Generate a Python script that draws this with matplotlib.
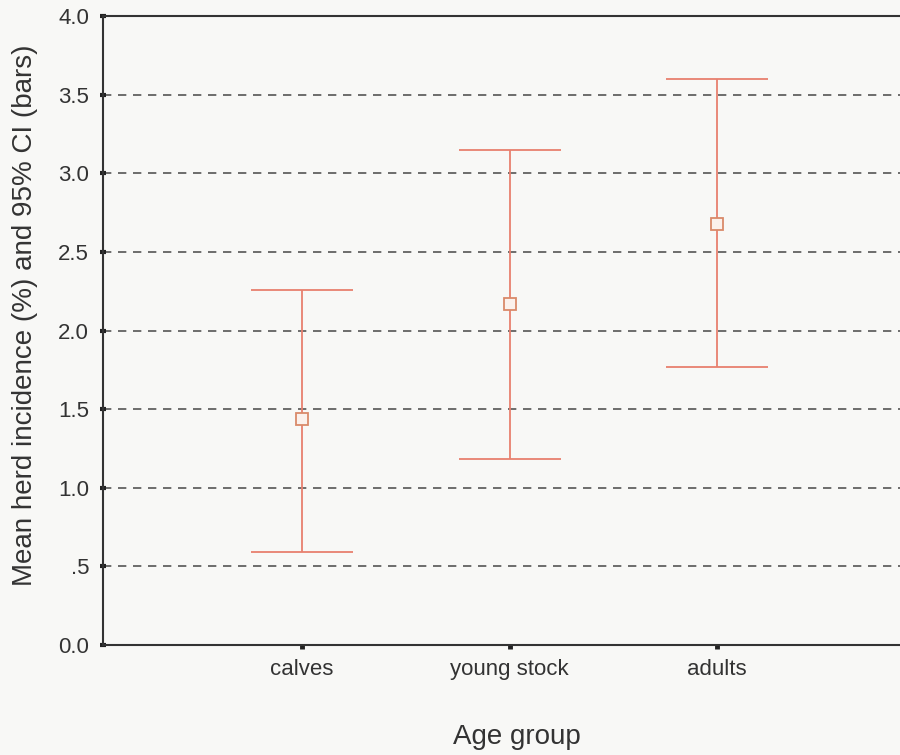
import matplotlib
matplotlib.use("Agg")
import matplotlib.pyplot as plt
import numpy as np

categories = ["calves", "young stock", "adults"]
means = [1.44, 2.17, 2.68]
ci_lower = [0.59, 1.18, 1.77]
ci_upper = [2.26, 3.15, 3.60]
ytick_values = [0.0, 0.5, 1.0, 1.5, 2.0, 2.5, 3.0, 3.5, 4.0]
ytick_labels = ["0.0", ".5", "1.0", "1.5", "2.0", "2.5", "3.0", "3.5", "4.0"]

plt.rcParams['font.family'] = ['Liberation Sans', 'DejaVu Sans']

bg = '#f8f8f6'
fig = plt.figure(figsize=(9, 7.55), dpi=100, facecolor=bg)
ax = fig.add_axes([0.1144, 0.1457, 0.8856, 0.8331])
ax.set_facecolor(bg)

x = np.arange(1, len(categories) + 1)
means_a = np.array(means)
yerr = np.vstack([means_a - np.array(ci_lower), np.array(ci_upper) - means_a])

for yv in ytick_values[1:-1]:
    ax.axhline(yv, color='#555555', lw=1.2, linestyle=(0, (5, 4)), zorder=1)

ax.errorbar(x, means, yerr=yerr, fmt='none', ecolor='#e8806e', elinewidth=1.3,
            capsize=37, capthick=1.3, zorder=3)
ax.plot(x, means, linestyle='none', marker='s', markersize=9,
        markerfacecolor='#fbf1ec', markeredgecolor='#d98a6a', markeredgewidth=1.3, zorder=4)

ax.set_xlim(0.041, 3.88)
ax.set_ylim(0, 4.0)
ax.set_xticks(x)
ax.set_xticklabels(categories, fontsize=16, color='#333333')
ax.set_yticks(ytick_values)
ax.set_yticklabels(ytick_labels, fontsize=16, color='#333333')

for s in ['left', 'bottom', 'top']:
    ax.spines[s].set_color('#333333')
    ax.spines[s].set_linewidth(1.5)
ax.spines['right'].set_visible(False)

ax.tick_params(axis='y', direction='inout', length=4, width=3, color='#222222', pad=8)
ax.tick_params(axis='x', direction='out', length=3, width=3.5, color='#222222', pad=7)

ax.set_xlabel("Age group", fontsize=20, color='#333333')
ax.xaxis.set_label_coords(0.519, -0.126)
ax.set_ylabel("Mean herd incidence (%) and 95% CI (bars)", fontsize=20, color='#333333')
ax.yaxis.set_label_coords(-0.082, 0.525)

fig.savefig("out.png", dpi=100, facecolor=bg)
